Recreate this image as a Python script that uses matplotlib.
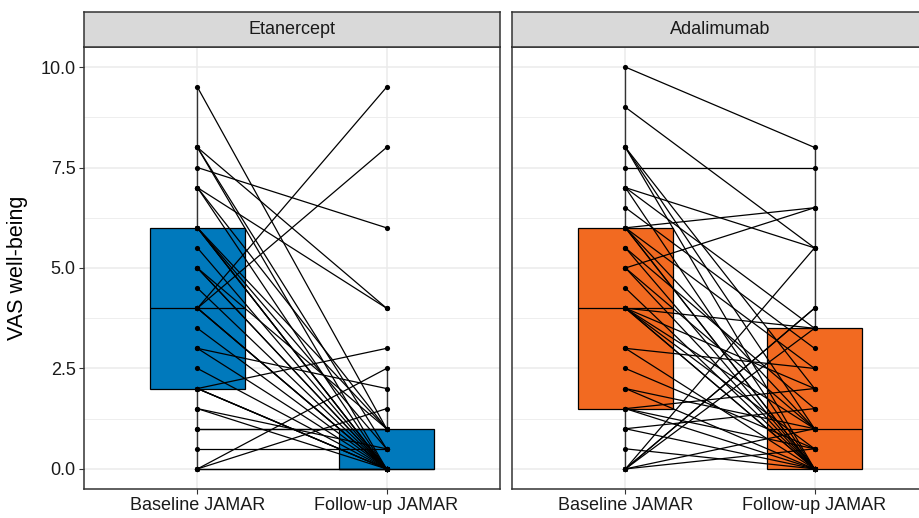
import matplotlib
matplotlib.use("Agg")
import matplotlib.pyplot as plt
from matplotlib.ticker import MultipleLocator, FormatStrFormatter

plt.rcParams['font.family'] = ['Liberation Sans', 'DejaVu Sans']

categories = ["Baseline JAMAR", "Follow-up JAMAR"]
panels = ["Etanercept", "Adalimumab"]
colors = ["#0079BC", "#F26A21"]

# Paired values (baseline, follow-up), one entry per patient
eta_baseline = [9.5, 8, 8, 8, 7.5, 7, 7, 7, 6, 6, 6, 6, 6,
                5.5, 5, 5, 5, 4.5, 4, 4, 4, 4, 4, 3.5, 3, 3,
                2.5, 2, 2, 2, 2, 1.5, 1.5, 1, 1, 0.5, 0, 0, 0, 0]
eta_followup = [1, 4, 0.5, 0, 6, 4, 1, 0, 1, 0.5, 0, 0, 0,
                0, 1, 0, 0, 0, 9.5, 8, 0, 0, 0, 0, 2, 0,
                0, 3, 0, 0, 0, 0.5, 0, 1, 1, 0.5, 2.5, 1.5, 0, 0]

ada_baseline = [10, 9, 8, 8, 8, 7.5, 7, 7, 7, 6.5, 6, 6, 6, 6, 6,
                5.5, 5.5, 5, 5, 5, 4.5, 4, 4, 4, 4, 4, 4, 3, 3, 2.5,
                2, 2, 1.5, 1.5, 1.5, 1, 1, 0.5, 0, 0, 0, 0, 0, 0]
ada_followup = [8, 5.5, 0, 1, 2, 7.5, 5.5, 3.5, 0, 3, 6.5, 0, 1, 0, 2.5,
                0, 1.5, 6.5, 0, 1, 0, 0, 0.5, 2, 1, 3.5, 0, 2.5, 0, 0.5,
                1, 0, 0, 2, 0.5, 1.5, 0, 0, 5.5, 4, 4, 3.5, 0.5, 1]

data = [(eta_baseline, eta_followup), (ada_baseline, ada_followup)]

W, H = 919, 518
fig = plt.figure(figsize=(W / 100, H / 100), dpi=100)

panel_x = [84, 512]
panel_w = 416
panel_top, panel_bot = 47, 489
strip_top = 12

for i, (name, (base, fol)) in enumerate(zip(panels, data)):
    x0 = panel_x[i]
    ax = fig.add_axes([x0 / W, (H - panel_bot) / H, panel_w / W, (panel_bot - panel_top) / H])

    bp = ax.boxplot([base, fol], positions=[1, 2], widths=0.5, whis=1.5,
                    showfliers=False, showcaps=False, patch_artist=True,
                    manage_ticks=False,
                    medianprops=dict(color='black', lw=0.9),
                    whiskerprops=dict(color='#333333', lw=1.0),
                    boxprops=dict(edgecolor='black', lw=0.9),
                    zorder=2)
    for patch in bp['boxes']:
        patch.set_facecolor(colors[i])

    for b, f in zip(base, fol):
        ax.plot([1, 2], [b, f], color='black', lw=0.9, zorder=3, solid_capstyle='round')
    ax.scatter([1] * len(base), base, s=14, color='black', zorder=4, linewidths=0)
    ax.scatter([2] * len(fol), fol, s=14, color='black', zorder=4, linewidths=0)

    ax.set_xlim(0.4, 2.6)
    ax.set_ylim(-0.5, 10.5)
    ax.yaxis.set_major_locator(MultipleLocator(2.5))
    ax.yaxis.set_minor_locator(MultipleLocator(1.25))
    ax.yaxis.set_major_formatter(FormatStrFormatter('%.1f'))
    ax.set_xticks([1, 2])
    ax.set_xticklabels(categories)
    ax.grid(which='major', color='#EBEBEB', lw=1.1, zorder=0)
    ax.grid(which='minor', axis='y', color='#EBEBEB', lw=0.6, zorder=0)
    ax.set_axisbelow(True)
    for s in ax.spines.values():
        s.set_color('#333333')
        s.set_linewidth(1.1)
    ax.tick_params(axis='both', which='major', length=3.5, width=0.8, color='#333333',
                   labelsize=13, labelcolor='#1a1a1a', pad=2.5)
    ax.tick_params(axis='y', which='minor', length=0)

    if i == 0:
        ax.set_ylabel("VAS well-being", fontsize=15.5, color='black', labelpad=9)
    else:
        ax.tick_params(axis='y', which='both', left=False, labelleft=False)

    sax = fig.add_axes([x0 / W, (H - panel_top) / H, panel_w / W, (panel_top - strip_top) / H])
    sax.set_facecolor('#D9D9D9')
    sax.set_xticks([])
    sax.set_yticks([])
    for s in sax.spines.values():
        s.set_color('#333333')
        s.set_linewidth(1.1)
    sax.text(0.5, 0.5, name, ha='center', va='center', fontsize=13,
             color='#1a1a1a', transform=sax.transAxes)

fig.savefig("out.png", dpi=100)
